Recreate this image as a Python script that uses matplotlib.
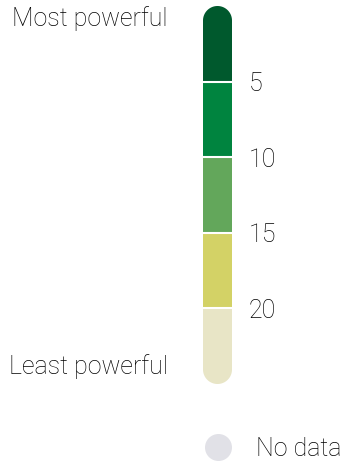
import matplotlib
matplotlib.use('Agg')
import matplotlib.pyplot as plt
from matplotlib.patches import PathPatch
from matplotlib.path import Path
from matplotlib.transforms import Affine2D
import numpy as np

# Rank bands of the power scale (1 = most powerful)
rank_edges = [0, 5, 10, 15, 20, 25]
tick_values = [5, 10, 15, 20]
band_colors = ['#00592d', '#00843f', '#63a75b', '#d3d266', '#e8e5c6']
top_label = 'Most powerful'
bottom_label = 'Least powerful'
nodata_label = 'No data'
nodata_color = '#e1e1e7'

plt.rcParams['font.family'] = ['Roboto', 'DejaVu Sans']
plt.rcParams['font.weight'] = 'light'
FS = 18
TXT = '#000000'

W, H = 345, 465
fig = plt.figure(figsize=(W / 100, H / 100), dpi=100)

# colour bar geometry, in pixels from the top left
bar_left, bar_w = 203, 29
bar_top, bar_bot = 6, 384
bar_h = bar_bot - bar_top
ax = fig.add_axes([bar_left / W, 1 - bar_bot / H, bar_w / W, bar_h / H])

lo = np.array(rank_edges[:-1])
hi = np.array(rank_edges[1:])
bars = ax.bar(0.5, hi - lo, bottom=lo, width=1.0, color=band_colors, linewidth=0)
ax.set_xlim(0, 1)
ax.set_ylim(rank_edges[-1], rank_edges[0])

seps = [ax.axhline(t, color='white', lw=1.5) for t in tick_values]

# pill outline (semicircular caps), built in pixels then mapped to axes units
r = bar_w / 2
th = np.linspace(0, np.pi, 60)
top_cap = np.column_stack([r + r * np.cos(th), bar_h - r + r * np.sin(th)])
bot_cap = np.column_stack([r - r * np.cos(th), r - r * np.sin(th)])
verts = np.vstack([top_cap, bot_cap, top_cap[:1]])
pill = Path(verts, closed=True)
clip = PathPatch(pill, transform=Affine2D().scale(1 / bar_w, 1 / bar_h) + ax.transAxes,
                 facecolor='none', edgecolor='none')
for art in list(bars) + seps:
    art.set_clip_path(clip)

ax.yaxis.tick_right()
ax.set_yticks(tick_values)
ax.set_xticks([])
ax.tick_params(axis='y', length=0, pad=12, labelsize=FS, labelcolor=TXT)
for s in ax.spines.values():
    s.set_visible(False)

fig.text(168 / W, 1 - 26 / H, top_label, ha='right', va='baseline',
         fontsize=FS, color=TXT)
fig.text(168 / W, 1 - 374 / H, bottom_label, ha='right', va='baseline',
         fontsize=FS, color=TXT)

# no-data swatch under the bar
ax.scatter([0.5], [(bar_bot - 447) / bar_h], s=(27 * 0.72) ** 2, color=nodata_color,
           transform=ax.transAxes, clip_on=False, linewidths=0)
fig.text(256 / W, 1 - 456 / H, nodata_label, ha='left', va='baseline',
         fontsize=FS, color=TXT)

fig.savefig('out.png', dpi=100)
